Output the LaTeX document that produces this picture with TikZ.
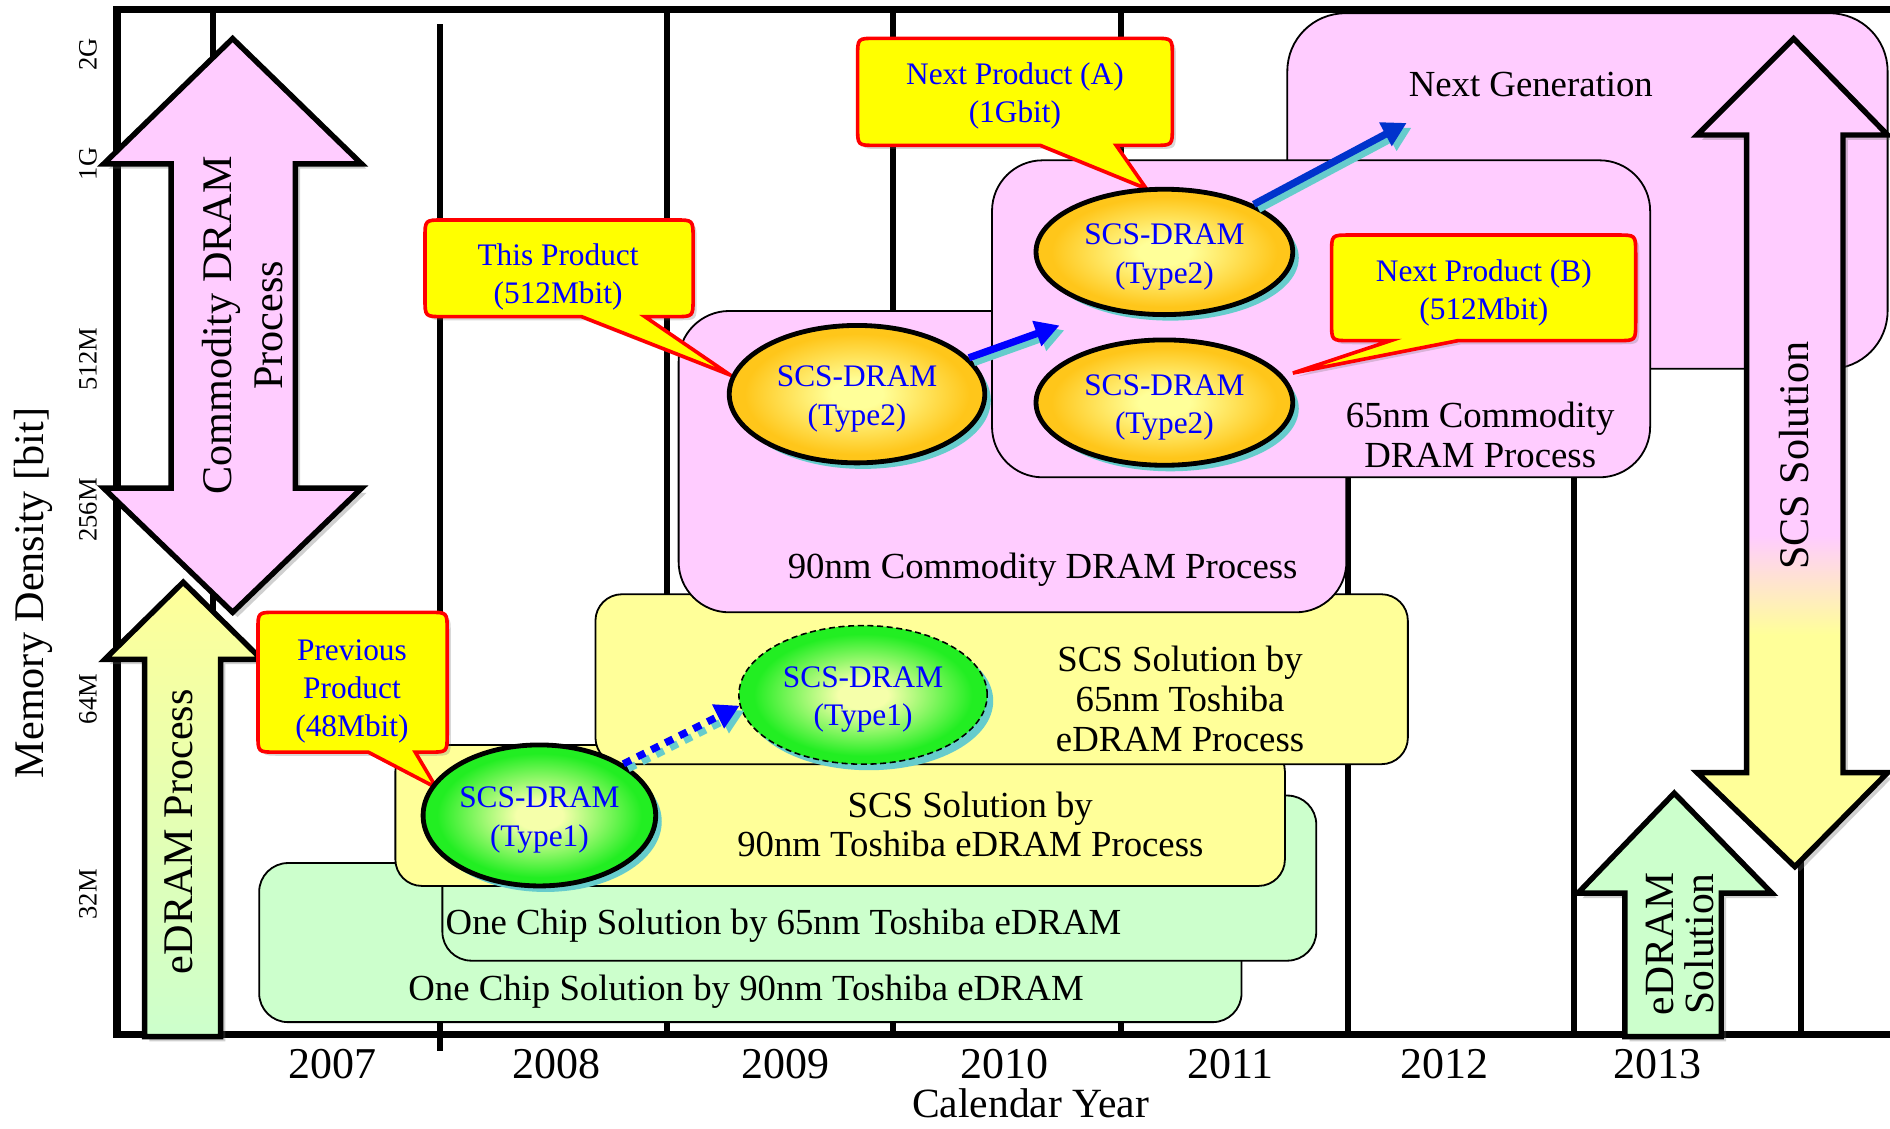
\documentclass[tikz,border=0pt]{standalone}
\usepackage{fontspec}
\setmainfont{Liberation Serif}
\usetikzlibrary{shadows,arrows.meta,shapes.geometric}
\definecolor{pinkc}{HTML}{FFCCFF}
\definecolor{yelc}{HTML}{FFFF99}
\definecolor{grnc}{HTML}{CCFFCC}
\definecolor{callyel}{HTML}{FFFF00}
\definecolor{callred}{HTML}{FF0000}
\definecolor{txtblue}{HTML}{0000FF}
\definecolor{shcyan}{HTML}{66CCCC}
\definecolor{goldin}{HTML}{FFFF99}
\definecolor{goldout}{HTML}{FFC61A}
\definecolor{grnin}{HTML}{F5FFAA}
\definecolor{grnout}{HTML}{22EE22}
\definecolor{arrblue}{HTML}{0000FF}
\definecolor{arrbluetwo}{HTML}{0033CC}
\pgfdeclareradialshading{goldsh}{\pgfpoint{0bp}{0bp}}{color(0bp)=(goldin); color(5bp)=(goldin); color(22bp)=(goldout); color(50bp)=(goldout)}
\pgfdeclareradialshading{grnsh}{\pgfpoint{0bp}{0bp}}{color(0bp)=(grnin); color(5bp)=(grnin); color(22bp)=(grnout); color(50bp)=(grnout)}
\pgfdeclareverticalshading{scssh}{100bp}{color(0bp)=(yelc); color(39bp)=(yelc); color(45bp)=(pinkc); color(100bp)=(pinkc)}
% x1 y1 x2 y2 p1 p2 tipx tipy
\newcommand{\mycallout}[8]{%
  \filldraw[callst] (#1+15,#2) -- (#3-15,#2) .. controls (#3,#2) .. (#3,#2+15)
    -- (#3,#4-15) .. controls (#3,#4) .. (#3-15,#4) -- (#6,#4) -- (#7,#8) -- (#5,#4)
    -- (#1+15,#4) .. controls (#1,#4) .. (#1,#4-15) -- (#1,#2+15) .. controls (#1,#2) .. (#1+15,#2) -- cycle;}
\begin{document}
\begin{tikzpicture}[x=1pt,y=-1pt,
  frame/.style={line width=6pt, line join=miter},
  vline/.style={line width=5pt},
  pbox/.style={draw=black, line width=1.5pt, fill=pinkc, rounded corners=42pt},
  ybox/.style={draw=black, line width=1.5pt, fill=yelc, rounded corners=22pt},
  gbox/.style={draw=black, line width=1.5pt, fill=grnc, rounded corners=24pt},
  nbox/.style={draw=black, line width=1.5pt, fill=pinkc, rounded corners=48pt},
  bigarrow/.style={draw=black, line width=4.5pt, line join=miter,
    drop shadow={opacity=0.3, shadow xshift=4pt, shadow yshift=-4pt, fill=black!60}},
  callst/.style={fill=callyel, draw=callred, line width=3pt, line join=miter,
    drop shadow={opacity=0.25, shadow xshift=3pt, shadow yshift=-3pt, fill=black!60}},
  lab/.style={font=\fontsize{30.5}{33}\selectfont, align=center, inner sep=0pt},
  bl/.style={font=\fontsize{26}{31.5}\selectfont, text=txtblue, align=center, inner sep=0pt},
  elltxt/.style={font=\fontsize{26}{32}\selectfont, text=txtblue, align=center, inner sep=0pt, yshift=-4pt},
  rotlab/.style={font=\fontsize{35}{42}\selectfont, align=center, inner sep=0pt, rotate=90},
  tick/.style={font=\fontsize{22}{24}\selectfont, inner sep=0pt, rotate=90},
  yr/.style={font=\fontsize{36.5}{40}\selectfont, inner sep=0pt, anchor=base},
  ellbase/.style={ellipse, inner sep=0pt,
    drop shadow={fill=shcyan, opacity=1, shadow xshift=5pt, shadow yshift=-5pt}},
  goldell/.style={ellbase, draw=black, line width=4pt, shade, shading=goldsh},
  grnell/.style={ellbase, draw=black, line width=4pt, shade, shading=grnsh},
  conn/.style={line width=6pt, -{Triangle[length=20pt,width=21pt]}}
]
\useasboundingbox (0,0) rectangle (1568,936);
\fill[white] (0,0) rectangle (1568,936);

% frame and year separators
\foreach \xx in {177,553,741,930,1118,1306,1494} \draw[vline] (\xx,8) -- (\xx,858);
\draw[vline] (365,20) -- (365,872);
\draw[frame] (1568,8) -- (97,8) -- (97,858) -- (1568,858);

% process boxes
\draw[nbox] (1068,11) rectangle (1566,306);
\draw[gbox] (215,716) rectangle (1030,848);
\draw[gbox] (367,660) rectangle (1092,797);
\draw[ybox] (328,618) rectangle (1066,735);
\draw[ybox] (494,493) rectangle (1168,634);
\draw[pbox] (563,258) rectangle (1117,508);
\draw[pbox] (823,133) rectangle (1369,396);

\node[lab] (ng) at (1270,70) {Next Generation};
\node[lab] (c65) at (1228,361) {65nm Commodity\\DRAM Process};
\node[lab] (c90) at (865,473) {90nm Commodity DRAM Process};
\node[lab] (s65) at (979,580) {SCS Solution by\\65nm Toshiba\\eDRAM Process};
\node[lab] (s90) at (805,684) {SCS Solution by\\90nm Toshiba eDRAM Process};
\node[lab] (o65) at (650,768) {One Chip Solution by 65nm Toshiba eDRAM};
\node[lab] (o90) at (619,823) {One Chip Solution by 90nm Toshiba eDRAM};

% big arrows
\draw[bigarrow, fill=pinkc] (193,32) -- (300,136) -- (245,136) -- (245,405) -- (300,405) -- (193,508)
  -- (86,405) -- (142,405) -- (142,136) -- (86,136) -- cycle;
\draw[bigarrow, top color=yelc, middle color=yelc!70!grnc, bottom color=grnc] (152,483) -- (217,547) -- (183,547) -- (183,860)
  -- (120,860) -- (120,547) -- (87,547) -- cycle;
\draw[bigarrow, shade, shading=scssh] (1488,32) -- (1566,112) -- (1529,112) -- (1529,641) -- (1566,641) -- (1489,719)
  -- (1408,641) -- (1449,641) -- (1449,112) -- (1408,112) -- cycle;
\draw[bigarrow, fill=grnc] (1389,658) -- (1470,741) -- (1428,741) -- (1428,860) -- (1348,860) -- (1348,741)
  -- (1309,741) -- cycle;

\node[rotlab] (cdp) at (201,270) {Commodity DRAM\\Process};
\node[rotlab] (edp) at (148,690) {eDRAM Process};
\node[rotlab] (scs) at (1488,378) {SCS Solution};
\node[rotlab, font=\fontsize{34.5}{33}\selectfont] (eds) at (1394,783) {eDRAM\\Solution};

% axis labels
\node[tick] (t2g) at (73,45) {2G};
\node[tick] (t1g) at (73,136) {1G};
\node[tick] (t512) at (73,298) {512M};
\node[tick] (t256) at (73,423) {256M};
\node[tick] (t64) at (73,580) {64M};
\node[tick] (t32) at (73,742) {32M};
\node[rotlab] (ylab) at (28,492) {Memory Density [bit]};
\node[yr] (y7) at (276,895) {2007};
\node[yr] (y8) at (462,895) {2008};
\node[yr] (y9) at (652,895) {2009};
\node[yr] (y10) at (833,895) {2010};
\node[yr] (y11) at (1021,895) {2011};
\node[yr] (y12) at (1198,895) {2012};
\node[yr] (y13) at (1375,895) {2013};
\node[yr, font=\fontsize{34.5}{38}\selectfont] (xlab) at (855,927) {Calendar Year};

% callouts
\mycallout{711.5}{31.8}{972.6}{120.6}{863}{926}{951}{156.5}
\mycallout{352.6}{182.5}{575}{262.7}{482.5}{535}{605.6}{311}
\mycallout{1104.7}{195}{1357}{282.6}{1153.8}{1209.6}{1072.6}{309.5}
\mycallout{214}{508}{371}{624}{305.5}{344.5}{362}{653.5}
\node[bl] (ca) at (842,80) {Next Product (A)\\(1Gbit)};
\node[bl] (ct) at (463,230) {This Product\\(512Mbit)};
\node[bl] (cb) at (1231,243) {Next Product (B)\\(512Mbit)};
\node[bl] (cp) at (292,574) {Previous\\Product\\(48Mbit)};

% SCS-DRAM ellipses
\node[grnell, minimum width=193pt, minimum height=117pt,
  label={[elltxt]center:SCS-DRAM\\(Type1)}] (e1) at (447.5,676.5) {};
\node[ellbase, draw=black, line width=1.3pt, dash pattern=on 5pt off 3pt, shade, shading=grnsh,
  minimum width=206pt, minimum height=115pt,
  label={[elltxt]center:SCS-DRAM\\(Type1)}] (e2) at (716,576.5) {};
\node[goldell, minimum width=212pt, minimum height=114pt,
  label={[elltxt]center:SCS-DRAM\\(Type2)}] (e3) at (711,327) {};
\node[goldell, minimum width=213pt, minimum height=104pt,
  label={[elltxt]center:SCS-DRAM\\(Type2)}] (e4) at (966,209) {};
\node[goldell, minimum width=213pt, minimum height=104pt,
  label={[elltxt]center:SCS-DRAM\\(Type2)}] (e5) at (966,334) {};

% connectors
\coordinate (nxtip) at (879,270);
\coordinate (ngtip) at (1167,102);
\draw[conn, shcyan, dash pattern=on 7pt off 6pt, transform canvas={shift={(4pt,-4pt)}}] (e1.north east) -- (e2.185);
\draw[conn, arrblue, dash pattern=on 7pt off 6pt] (e1.north east) -- (e2.185);
\draw[conn, shcyan, transform canvas={shift={(4pt,-4pt)}}] (e3.18) -- (nxtip);
\draw[conn, arrblue] (e3.18) -- (nxtip);
\draw[conn, shcyan, transform canvas={shift={(4pt,-4pt)}}] (e4.28) -- (ngtip);
\draw[conn, arrbluetwo] (e4.28) -- (ngtip);
\end{tikzpicture}
\end{document}
